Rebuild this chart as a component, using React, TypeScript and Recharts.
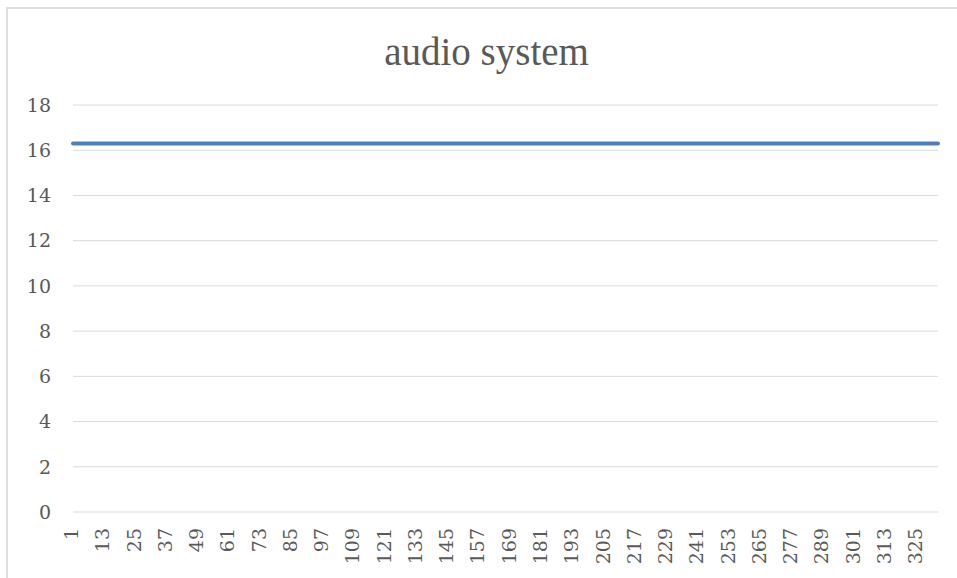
import { LineChart, Line, XAxis, YAxis, CartesianGrid } from 'recharts';

// reading of the "audio system" level, one value per sample (flat at ~16.3)
const levels: number[] = [
  16.3, 16.3, 16.3, 16.3, 16.3, 16.3, 16.3, 16.3, 16.3, 16.3, 16.3, 16.3, 16.3, 16.3, 16.3, 16.3, 16.3, 16.3, 16.3, 16.3,
  16.3, 16.3, 16.3, 16.3, 16.3, 16.3, 16.3, 16.3, 16.3, 16.3, 16.3, 16.3, 16.3, 16.3, 16.3, 16.3, 16.3, 16.3, 16.3, 16.3,
  16.3, 16.3, 16.3, 16.3, 16.3, 16.3, 16.3, 16.3, 16.3, 16.3, 16.3, 16.3, 16.3, 16.3, 16.3, 16.3, 16.3, 16.3, 16.3, 16.3,
  16.3, 16.3, 16.3, 16.3, 16.3, 16.3, 16.3, 16.3, 16.3, 16.3, 16.3, 16.3, 16.3, 16.3, 16.3, 16.3, 16.3, 16.3, 16.3, 16.3,
  16.3, 16.3, 16.3, 16.3, 16.3, 16.3, 16.3, 16.3, 16.3, 16.3, 16.3, 16.3, 16.3, 16.3, 16.3, 16.3, 16.3, 16.3, 16.3, 16.3,
  16.3, 16.3, 16.3, 16.3, 16.3, 16.3, 16.3, 16.3, 16.3, 16.3, 16.3, 16.3, 16.3, 16.3, 16.3, 16.3, 16.3, 16.3, 16.3, 16.3,
  16.3, 16.3, 16.3, 16.3, 16.3, 16.3, 16.3, 16.3, 16.3, 16.3, 16.3, 16.3, 16.3, 16.3, 16.3, 16.3, 16.3, 16.3, 16.3, 16.3,
  16.3, 16.3, 16.3, 16.3, 16.3, 16.3, 16.3, 16.3, 16.3, 16.3, 16.3, 16.3, 16.3, 16.3, 16.3, 16.3, 16.3, 16.3, 16.3, 16.3,
  16.3, 16.3, 16.3, 16.3, 16.3, 16.3, 16.3, 16.3, 16.3, 16.3, 16.3, 16.3, 16.3, 16.3, 16.3, 16.3, 16.3, 16.3, 16.3, 16.3,
  16.3, 16.3, 16.3, 16.3, 16.3, 16.3, 16.3, 16.3, 16.3, 16.3, 16.3, 16.3, 16.3, 16.3, 16.3, 16.3, 16.3, 16.3, 16.3, 16.3,
  16.3, 16.3, 16.3, 16.3, 16.3, 16.3, 16.3, 16.3, 16.3, 16.3, 16.3, 16.3, 16.3, 16.3, 16.3, 16.3, 16.3, 16.3, 16.3, 16.3,
  16.3, 16.3, 16.3, 16.3, 16.3, 16.3, 16.3, 16.3, 16.3, 16.3, 16.3, 16.3, 16.3, 16.3, 16.3, 16.3, 16.3, 16.3, 16.3, 16.3,
  16.3, 16.3, 16.3, 16.3, 16.3, 16.3, 16.3, 16.3, 16.3, 16.3, 16.3, 16.3, 16.3, 16.3, 16.3, 16.3, 16.3, 16.3, 16.3, 16.3,
  16.3, 16.3, 16.3, 16.3, 16.3, 16.3, 16.3, 16.3, 16.3, 16.3, 16.3, 16.3, 16.3, 16.3, 16.3, 16.3, 16.3, 16.3, 16.3, 16.3,
  16.3, 16.3, 16.3, 16.3, 16.3, 16.3, 16.3, 16.3, 16.3, 16.3, 16.3, 16.3, 16.3, 16.3, 16.3, 16.3, 16.3, 16.3, 16.3, 16.3,
  16.3, 16.3, 16.3, 16.3, 16.3, 16.3, 16.3, 16.3, 16.3, 16.3, 16.3, 16.3, 16.3, 16.3, 16.3, 16.3, 16.3, 16.3, 16.3, 16.3,
  16.3, 16.3, 16.3, 16.3, 16.3, 16.3, 16.3, 16.3, 16.3, 16.3, 16.3, 16.3, 16.3,
];

// sample numbers 1..n along the category axis
const samples: number[] = levels.map((_, i) => i + 1);

const yTicks = [0, 2, 4, 6, 8, 10, 12, 14, 16, 18];

const data = samples.map((s, i) => ({ sample: s, level: levels[i] }));

const textColor = '#595959';
const gridColor = '#d9d9d9';
const tickFont = '"DejaVu Serif", serif';

// vertical x labels, read bottom-to-top, top end just under the axis
function SampleTick(props: any) {
  const { x, y, payload } = props;
  const cx = x - 2;
  return (
    <text
      x={cx}
      y={y}
      transform={`rotate(-90 ${cx} ${y})`}
      textAnchor="end"
      dominantBaseline="central"
      fill={textColor}
      style={{ fontFamily: tickFont, fontSize: 19 }}
    >
      {payload.value}
    </text>
  );
}

export default function App() {
  return (
    <div style={{ position: 'absolute', left: 0, top: 0, width: 957, height: 578, overflow: 'hidden', background: '#fff' }}>
      {/* chart frame, clipped on the right and bottom like the screenshot */}
      <div
        style={{
          position: 'absolute',
          left: 6,
          top: 7,
          width: 1000,
          height: 700,
          border: '2px solid #dedede',
        }}
      />
      <svg width={957} height={578} style={{ position: 'absolute', left: 0, top: 0 }}>
        <text
          x={486.5}
          y={65}
          textAnchor="middle"
          fill={textColor}
          style={{ fontFamily: '"Liberation Serif", serif', fontSize: 39 }}
        >
          audio system
        </text>
      </svg>
      <div style={{ position: 'absolute', left: 0, top: 0 }}>
        <LineChart
          width={957}
          height={578}
          data={data}
          margin={{ top: 105, right: 19, left: 0, bottom: 0 }}
        >
          <CartesianGrid vertical={false} stroke={gridColor} strokeWidth={1} />
          <XAxis
            dataKey="sample"
            interval={11}
            axisLine={false}
            tickLine={false}
            tickSize={0}
            tickMargin={16}
            height={66}
            tick={<SampleTick />}
          />
          <YAxis
            domain={[0, 18]}
            ticks={yTicks}
            width={73}
            axisLine={false}
            tickLine={false}
            tickSize={0}
            tickMargin={22}
            tick={{ fill: textColor, fontSize: 19, fontFamily: tickFont }}
          />
          <Line
            type="linear"
            dataKey="level"
            stroke="#4e7fbd"
            strokeWidth={4}
            strokeLinecap="round"
            dot={false}
            isAnimationActive={false}
          />
        </LineChart>
      </div>
    </div>
  );
}
